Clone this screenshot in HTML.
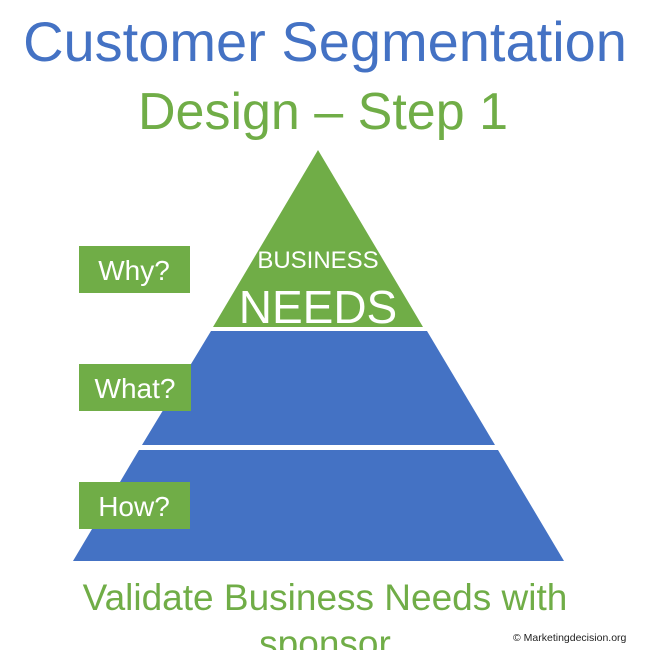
<!DOCTYPE html>
<html><head><meta charset="utf-8"><style>
html,body{margin:0;padding:0;background:#fff;width:650px;height:650px;overflow:hidden}
svg{display:block}
</style></head><body>
<svg width="650" height="650" viewBox="0 0 650 650" xmlns="http://www.w3.org/2000/svg" font-family="Liberation Sans, sans-serif">
<text x="325" y="61" text-anchor="middle" font-size="56" fill="#4472C4">Customer Segmentation</text>
<text x="323" y="129" text-anchor="middle" font-size="52" fill="#70AD47">Design – Step 1</text>
<polygon points="318,150 423,327 213,327" fill="#70AD47"/>
<polygon points="211,331 427,331 495,445 142,445" fill="#4472C4"/>
<polygon points="139,450 498,450 564,561 73,561" fill="#4472C4"/>
<text x="318" y="268" text-anchor="middle" font-size="24" fill="#fff">BUSINESS</text>
<text x="318" y="323" text-anchor="middle" font-size="46" fill="#fff">NEEDS</text>
<rect x="79" y="246" width="111" height="47" fill="#70AD47"/>
<text x="134" y="280" text-anchor="middle" font-size="28" fill="#fff">Why?</text>
<rect x="79" y="364" width="112" height="47" fill="#70AD47"/>
<text x="135" y="398" text-anchor="middle" font-size="28" fill="#fff">What?</text>
<rect x="79" y="482" width="111" height="47" fill="#70AD47"/>
<text x="134" y="516" text-anchor="middle" font-size="28" fill="#fff">How?</text>
<text x="325" y="610" text-anchor="middle" font-size="37" fill="#70AD47">Validate Business Needs with</text>
<text x="325" y="656" text-anchor="middle" font-size="37" fill="#70AD47">sponsor</text>
<text x="513" y="641" font-size="10.5" fill="#222">© Marketingdecision.org</text>
</svg>
</body></html>
